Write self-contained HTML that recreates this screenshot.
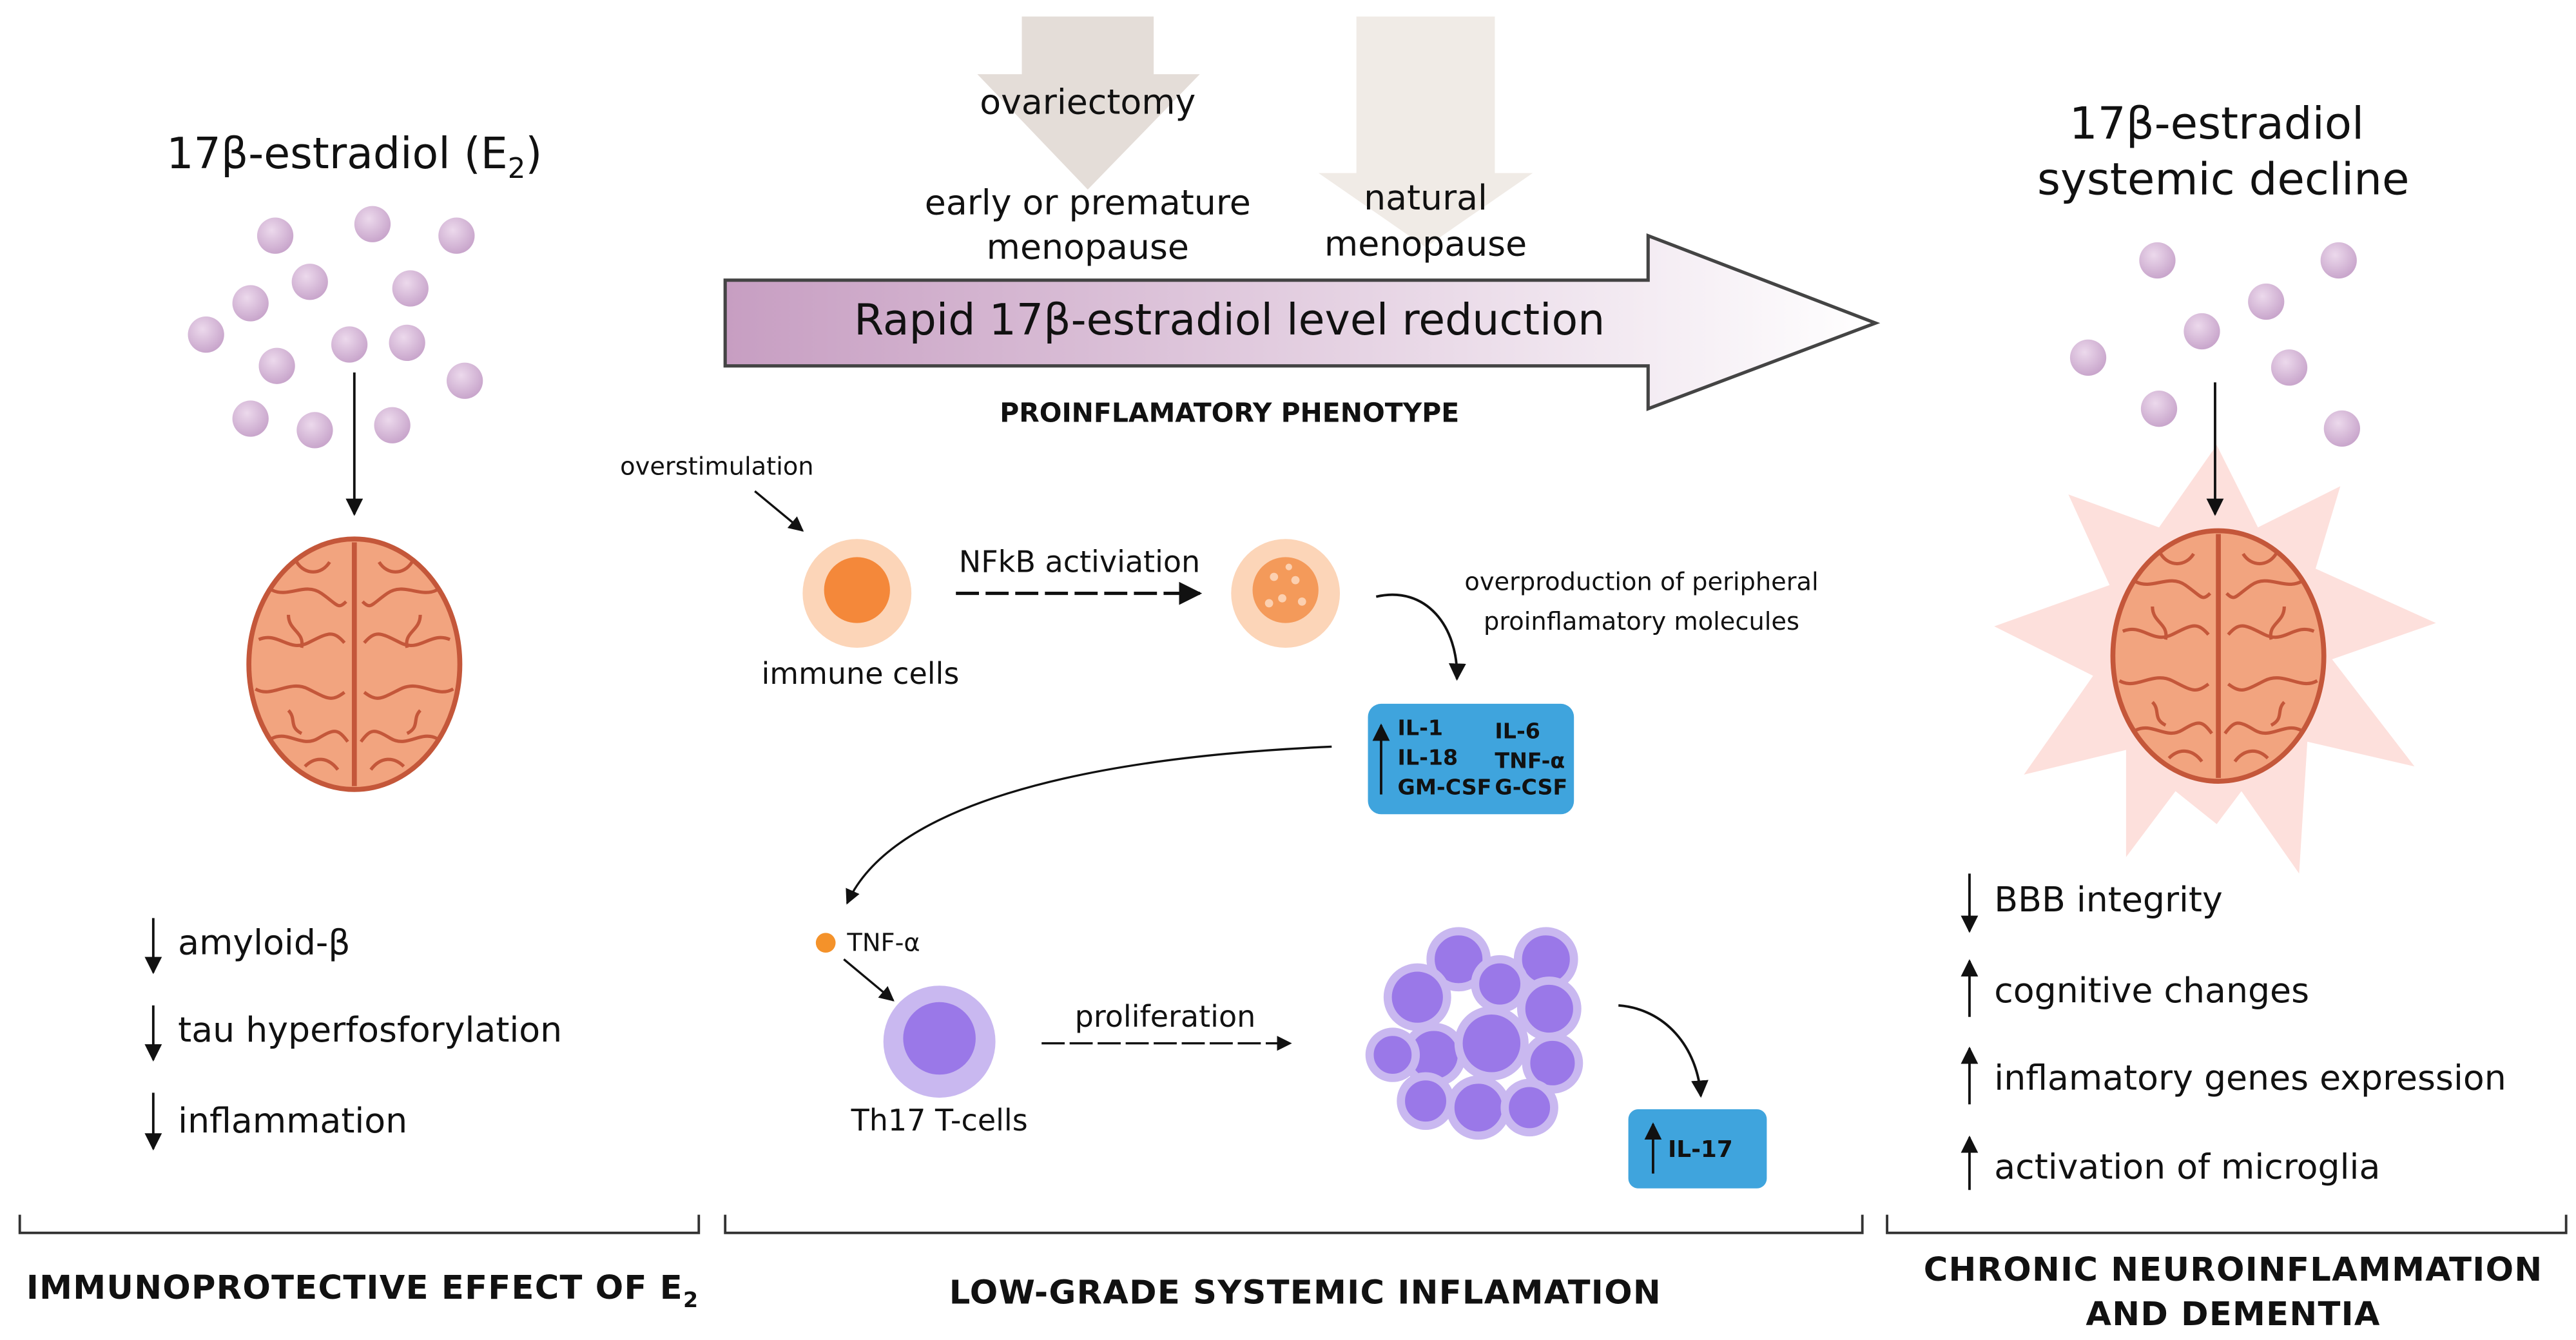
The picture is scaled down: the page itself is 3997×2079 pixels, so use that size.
<!DOCTYPE html>
<html><head><meta charset="utf-8"><style>
html,body{margin:0;padding:0;background:#fff;}
svg{display:block;width:3997px;height:2079px;}
text{font-family:"DejaVu Sans","Liberation Sans",sans-serif;fill:#111;}
.b{font-weight:bold;}
</style></head><body>
<svg viewBox="0 0 1563 813" preserveAspectRatio="none" xmlns="http://www.w3.org/2000/svg">
<defs>
<radialGradient id="sp" cx="40%" cy="35%" r="65%"><stop offset="0" stop-color="#ecd9ec"/><stop offset="1" stop-color="#c9a6cc"/></radialGradient>
<linearGradient id="ar" x1="0" x2="1"><stop offset="0" stop-color="#c79ec2"/><stop offset="1" stop-color="#ffffff"/></linearGradient>
<marker id="m" viewBox="0 0 10 10" refX="9" refY="5" markerWidth="7" markerHeight="7" orient="auto"><path d="M0,0L10,5L0,10z" fill="#111"/></marker>
<g id="brain">
<ellipse cx="0" cy="0" rx="64" ry="76" fill="#f2a47f" stroke="#c4573a" stroke-width="3"/>
<path d="M0,-74V74" stroke="#c4573a" stroke-width="3"/>
<g fill="none" stroke="#c4573a" stroke-width="2">
<path d="M-50,-45c10,5 20,-5 30,2s10,10 15,5"/><path d="M50,-45c-10,5 -20,-5 -30,2s-10,10 -15,5"/>
<path d="M-58,-15c12,-5 18,8 30,2s15,-8 22,0"/><path d="M58,-15c-12,-5 -18,8 -30,2s-15,-8 -22,0"/>
<path d="M-60,15c10,6 20,-6 32,0s14,8 22,2"/><path d="M60,15c-10,6 -20,-6 -32,0s-14,8 -22,2"/>
<path d="M-50,45c10,-5 18,6 28,0s12,-6 18,2"/><path d="M50,45c-10,-5 -18,6 -28,0s-12,-6 -18,2"/>
<path d="M-35,-62c5,8 15,8 20,0"/><path d="M35,-62c-5,8 -15,8 -20,0"/>
<path d="M-30,62c6,-6 14,-6 20,2"/><path d="M30,62c-6,-6 -14,-6 -20,2"/>
<path d="M-40,-30c0,10 10,10 8,20"/><path d="M40,-30c0,10 -10,10 -8,20"/>
<path d="M-40,28c5,5 0,10 8,14"/><path d="M40,28c-5,5 0,10 -8,14"/>
</g></g>
</defs>

<path d="M620,10H700V45H728L660,115L593,45H620Z" fill="#e4ddd8"/>
<path d="M823,10H907V105H930L865,150L800,105H823Z" fill="#f0ebe6"/>
<text x="660" y="69" font-size="21" text-anchor="middle">ovariectomy</text>
<text x="660" y="130" font-size="21" text-anchor="middle">early or premature</text>
<text x="660" y="157" font-size="21" text-anchor="middle">menopause</text>
<text x="865" y="127" font-size="21" text-anchor="middle">natural</text>
<text x="865" y="155" font-size="21" text-anchor="middle">menopause</text>

<path d="M440,170H1000V143L1138,196L1000,248V222H440Z" fill="url(#ar)" stroke="#444" stroke-width="2"/>
<text x="746" y="203" font-size="26" text-anchor="middle">Rapid 17β-estradiol level reduction</text>
<text x="746" y="256" font-size="16" class="b" text-anchor="middle">PROINFLAMATORY PHENOTYPE</text>

<text x="215" y="102" font-size="26" text-anchor="middle">17β-estradiol (E<tspan font-size="17" dy="6">2</tspan><tspan dy="-6">)</tspan></text>
<g fill="url(#sp)">
<circle cx="167" cy="143" r="11"/><circle cx="226" cy="136" r="11"/><circle cx="277" cy="143" r="11"/><circle cx="188" cy="171" r="11"/><circle cx="249" cy="175" r="11"/><circle cx="152" cy="184" r="11"/><circle cx="125" cy="203" r="11"/><circle cx="212" cy="209" r="11"/><circle cx="247" cy="208" r="11"/><circle cx="168" cy="222" r="11"/><circle cx="282" cy="231" r="11"/><circle cx="152" cy="254" r="11"/><circle cx="191" cy="261" r="11"/><circle cx="238" cy="258" r="11"/>
</g>
<line x1="215" y1="226" x2="215" y2="312" stroke="#111" stroke-width="1.5" marker-end="url(#m)"/>
<use href="#brain" transform="translate(215,403)"/>
<g stroke="#111" stroke-width="1.5">
<line x1="93" y1="557" x2="93" y2="590" marker-end="url(#m)"/>
<line x1="93" y1="610" x2="93" y2="643" marker-end="url(#m)"/>
<line x1="93" y1="663" x2="93" y2="697" marker-end="url(#m)"/>
</g>
<text x="108" y="579" font-size="21">amyloid-β</text>
<text x="108" y="632" font-size="21">tau hyperfosforylation</text>
<text x="108" y="687" font-size="21">inflammation</text>

<g fill="none" stroke="#333" stroke-width="1.5">
<path d="M12,737V748H424V737"/><path d="M440,737V748H1130V737"/><path d="M1145,737V748H1557V737"/>
</g>
<text x="220" y="788" font-size="20" class="b" text-anchor="middle" letter-spacing="0.5">IMMUNOPROTECTIVE EFFECT OF E<tspan font-size="13" dy="5">2</tspan></text>
<text x="792" y="791" font-size="20" class="b" text-anchor="middle" letter-spacing="0.5">LOW-GRADE SYSTEMIC INFLAMATION</text>
<text x="1355" y="777" font-size="20" class="b" text-anchor="middle" letter-spacing="0.5">CHRONIC NEUROINFLAMMATION</text>
<text x="1355" y="804" font-size="20" class="b" text-anchor="middle" letter-spacing="0.5">AND DEMENTIA</text>

<text x="435" y="288" font-size="15" text-anchor="middle">overstimulation</text>
<line x1="458" y1="298" x2="487" y2="322" stroke="#111" stroke-width="1.3" marker-end="url(#m)"/>
<circle cx="520" cy="360" r="33" fill="#fcd5b8"/><circle cx="520" cy="358" r="20" fill="#f4883a"/>
<text x="522" y="415" font-size="18" text-anchor="middle">immune cells</text>
<text x="655" y="347" font-size="18" text-anchor="middle">NFkB activiation</text>
<line x1="580" y1="360" x2="728" y2="360" stroke="#111" stroke-width="2" stroke-dasharray="14,4" marker-end="url(#m)"/>
<circle cx="780" cy="360" r="33" fill="#fcd5b8"/><circle cx="780" cy="358" r="20" fill="#f49a5a"/>
<g fill="#fcd0b0"><circle cx="773" cy="350" r="2.5"/><circle cx="786" cy="352" r="2.5"/><circle cx="778" cy="363" r="2.5"/><circle cx="790" cy="365" r="2.5"/><circle cx="770" cy="366" r="2.5"/><circle cx="782" cy="344" r="2"/></g>
<text x="996" y="358" font-size="15" text-anchor="middle">overproduction of peripheral</text>
<text x="996" y="382" font-size="15" text-anchor="middle">proinflamatory molecules</text>
<path d="M835,362C865,355 885,380 884,412" fill="none" stroke="#111" stroke-width="1.5" marker-end="url(#m)"/>
<rect x="830" y="427" width="125" height="67" rx="8" fill="#3fa4dd"/>
<line x1="838" y1="482" x2="838" y2="440" stroke="#111" stroke-width="1.5" marker-end="url(#m)"/>
<g font-size="13" class="b">
<text x="848" y="446" class="b">IL-1</text><text x="907" y="448" class="b">IL-6</text>
<text x="848" y="464" class="b">IL-18</text><text x="907" y="466" class="b">TNF-α</text>
<text x="848" y="482" class="b">GM-CSF</text><text x="907" y="482" class="b">G-CSF</text>
</g>
<path d="M808,453C650,460 540,490 514,548" fill="none" stroke="#111" stroke-width="1.3" marker-end="url(#m)"/>
<circle cx="501" cy="572" r="6" fill="#f4922a"/>
<text x="514" y="577" font-size="15">TNF-α</text>
<line x1="512" y1="582" x2="542" y2="607" stroke="#111" stroke-width="1.3" marker-end="url(#m)"/>
<circle cx="570" cy="632" r="34" fill="#c9b8f0"/><circle cx="570" cy="630" r="22" fill="#9a78e8"/>
<text x="570" y="686" font-size="18" text-anchor="middle">Th17 T-cells</text>
<text x="707" y="623" font-size="18" text-anchor="middle">proliferation</text>
<line x1="632" y1="633" x2="783" y2="633" stroke="#111" stroke-width="1.3" stroke-dasharray="14,3" marker-end="url(#m)"/>
<g stroke="#c9b8f0" stroke-width="5" fill="#9a78e8">
<circle cx="885" cy="582" r="17"/><circle cx="938" cy="582" r="17"/><circle cx="910" cy="597" r="15"/>
<circle cx="860" cy="605" r="18"/><circle cx="940" cy="612" r="17"/><circle cx="870" cy="640" r="17"/>
<circle cx="905" cy="633" r="20"/><circle cx="845" cy="640" r="14"/><circle cx="942" cy="645" r="16"/>
<circle cx="865" cy="668" r="15"/><circle cx="897" cy="672" r="17"/><circle cx="928" cy="672" r="15"/>
</g>
<path d="M982,610C1010,612 1030,635 1032,665" fill="none" stroke="#111" stroke-width="1.5" marker-end="url(#m)"/>
<rect x="988" y="673" width="84" height="48" rx="6" fill="#3fa4dd"/>
<line x1="1003" y1="712" x2="1003" y2="682" stroke="#111" stroke-width="1.5" marker-end="url(#m)"/>
<text x="1012" y="702" font-size="14" class="b">IL-17</text>

<text x="1345" y="84" font-size="27" text-anchor="middle">17β-estradiol</text>
<text x="1349" y="118" font-size="27" text-anchor="middle">systemic decline</text>
<path d="M1345,270L1370,320L1420,295L1405,345L1478,378L1415,400L1465,465L1400,450L1395,530L1360,480L1345,500L1320,480L1290,520L1290,455L1228,470L1270,410L1210,380L1280,355L1255,300L1310,320Z" fill="#fde0dc"/>
<g fill="url(#sp)">
<circle cx="1309" cy="158" r="11"/><circle cx="1419" cy="158" r="11"/><circle cx="1375" cy="183" r="11"/><circle cx="1336" cy="201" r="11"/><circle cx="1267" cy="217" r="11"/><circle cx="1389" cy="223" r="11"/><circle cx="1310" cy="248" r="11"/><circle cx="1421" cy="260" r="11"/>
</g>
<line x1="1344" y1="232" x2="1344" y2="312" stroke="#111" stroke-width="1.5" marker-end="url(#m)"/>
<use href="#brain" transform="translate(1346,398)"/>
<g stroke="#111" stroke-width="1.5">
<line x1="1195" y1="530" x2="1195" y2="565" marker-end="url(#m)"/>
<line x1="1195" y1="617" x2="1195" y2="583" marker-end="url(#m)"/>
<line x1="1195" y1="670" x2="1195" y2="636" marker-end="url(#m)"/>
<line x1="1195" y1="722" x2="1195" y2="690" marker-end="url(#m)"/>
</g>
<text x="1210" y="553" font-size="21">BBB integrity</text>
<text x="1210" y="608" font-size="21">cognitive changes</text>
<text x="1210" y="661" font-size="21">inflamatory genes expression</text>
<text x="1210" y="715" font-size="21">activation of microglia</text>
</svg>
</body></html>
